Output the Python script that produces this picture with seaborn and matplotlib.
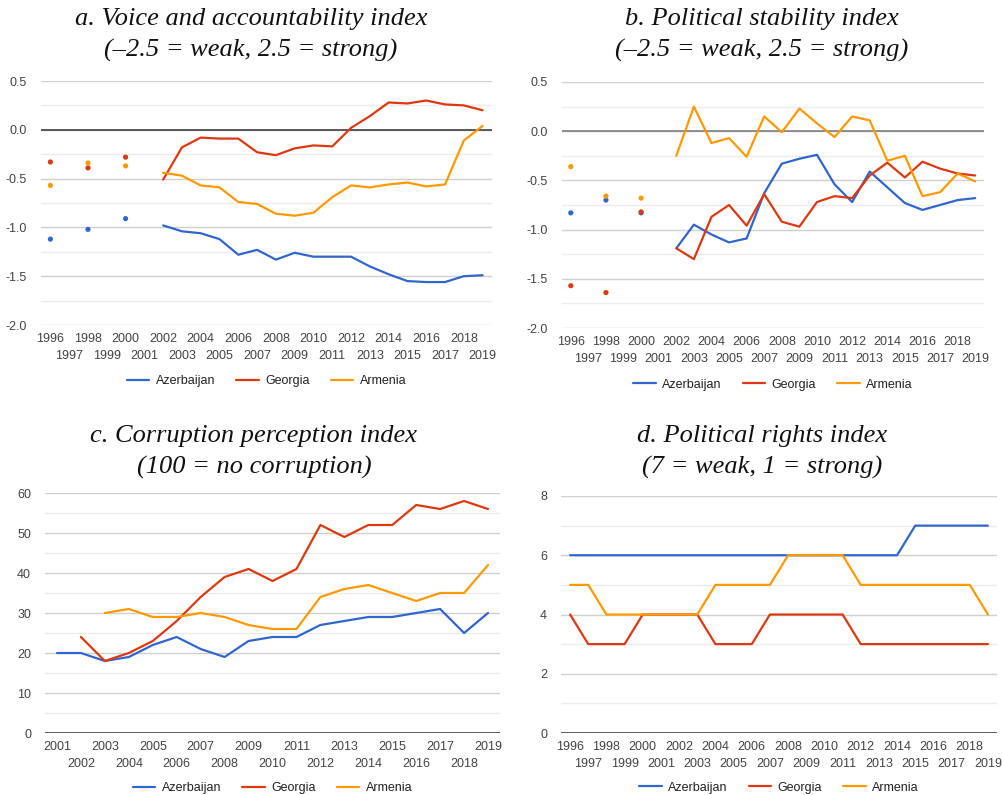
import numpy as np
import pandas as pd
import matplotlib
matplotlib.use("Agg")
import matplotlib.pyplot as plt
import seaborn as sns
from matplotlib.ticker import MultipleLocator

# ---------------- data ----------------
nan = np.nan
years_wgi = list(range(1996, 2020))
countries = ["Azerbaijan", "Georgia", "Armenia"]
colors = {"Azerbaijan": "#3366CC", "Georgia": "#DC3912", "Armenia": "#FF9900"}

# a. Voice and accountability (1997, 1999, 2001 not surveyed)
voice_aze = [-1.12, nan, -1.02, nan, -0.91, nan, -0.98, -1.04, -1.06, -1.12, -1.28, -1.23,
             -1.33, -1.26, -1.30, -1.30, -1.30, -1.40, -1.48, -1.55, -1.56, -1.56, -1.50, -1.49]
voice_geo = [-0.33, nan, -0.39, nan, -0.28, nan, -0.51, -0.18, -0.08, -0.09, -0.09, -0.23,
             -0.26, -0.19, -0.16, -0.17, 0.02, 0.14, 0.28, 0.27, 0.30, 0.26, 0.25, 0.20]
voice_arm = [-0.57, nan, -0.34, nan, -0.37, nan, -0.44, -0.47, -0.57, -0.59, -0.74, -0.76,
             -0.86, -0.88, -0.85, -0.69, -0.57, -0.59, -0.56, -0.54, -0.58, -0.56, -0.11, 0.04]

# b. Political stability
stab_aze = [-0.83, nan, -0.70, nan, -0.83, nan, -1.19, -0.95, -1.05, -1.13, -1.09, -0.63,
            -0.33, -0.28, -0.24, -0.54, -0.72, -0.41, -0.57, -0.73, -0.80, -0.75, -0.70, -0.68]
stab_geo = [-1.57, nan, -1.64, nan, -0.82, nan, -1.19, -1.30, -0.87, -0.75, -0.96, -0.64,
            -0.92, -0.97, -0.72, -0.66, -0.68, -0.45, -0.32, -0.47, -0.31, -0.38, -0.43, -0.45]
stab_arm = [-0.36, nan, -0.66, nan, -0.68, nan, -0.25, 0.25, -0.12, -0.07, -0.26, 0.15,
            -0.01, 0.23, 0.08, -0.06, 0.15, 0.11, -0.30, -0.25, -0.66, -0.62, -0.43, -0.51]

# c. Corruption perception index
years_cpi = list(range(2001, 2020))
cpi_aze = [20, 20, 18, 19, 22, 24, 21, 19, 23, 24, 24, 27, 28, 29, 29, 30, 31, 25, 30]
cpi_geo = [nan, 24, 18, 20, 23, 28, 34, 39, 41, 38, 41, 52, 49, 52, 52, 57, 56, 58, 56]
cpi_arm = [nan, nan, 30, 31, 29, 29, 30, 29, 27, 26, 26, 34, 36, 37, 35, 33, 35, 35, 42]

# d. Political rights
pr_aze = [6, 6, 6, 6, 6, 6, 6, 6, 6, 6, 6, 6, 6, 6, 6, 6, 6, 6, 6, 7, 7, 7, 7, 7]
pr_geo = [4, 3, 3, 3, 4, 4, 4, 4, 3, 3, 3, 4, 4, 4, 4, 4, 3, 3, 3, 3, 3, 3, 3, 3]
pr_arm = [5, 5, 4, 4, 4, 4, 4, 4, 5, 5, 5, 5, 6, 6, 6, 6, 5, 5, 5, 5, 5, 5, 5, 4]


def long_df(years, series):
    rows = []
    for name, vals in series.items():
        for y, v in zip(years, vals):
            rows.append({"Year": y, "Country": name, "Value": v})
    return pd.DataFrame(rows).dropna()


voice = long_df(years_wgi, {"Azerbaijan": voice_aze, "Georgia": voice_geo, "Armenia": voice_arm})
stab = long_df(years_wgi, {"Azerbaijan": stab_aze, "Georgia": stab_geo, "Armenia": stab_arm})
cpi = long_df(years_cpi, {"Azerbaijan": cpi_aze, "Georgia": cpi_geo, "Armenia": cpi_arm})
pr = long_df(years_wgi, {"Azerbaijan": pr_aze, "Georgia": pr_geo, "Armenia": pr_arm})

# ---------------- style ----------------
sns.set_theme(style="white")
plt.rcParams["font.family"] = ["Liberation Sans", "DejaVu Sans"]
plt.rcParams["axes.unicode_minus"] = False

fig = plt.figure(figsize=(10.03, 7.95), dpi=100)
W, H = 1003, 795


def add_ax(left, top, right, bottom):
    return fig.add_axes([left / W, 1 - bottom / H, (right - left) / W, (bottom - top) / H])


ax_a = add_ax(41, 81, 492, 325)
ax_b = add_ax(562, 82, 984, 328)
ax_c = add_ax(45, 493, 500, 733)
ax_d = add_ax(561, 496, 997, 733)


def style_axis(ax, years, ylim, major, minor, fmt, zero_color):
    ax.set_xlim(years[0] - 0.5, years[-1] + 0.5)
    ax.set_ylim(*ylim)
    # two staggered rows of year labels
    row1 = years[0::2]
    row2 = years[1::2]
    ax.set_xticks(row1)
    ax.set_xticklabels([str(y) for y in row1], fontsize=9, color="#444444")
    ax.set_xticks(row2, minor=True)
    ax.set_xticklabels([str(y) for y in row2], minor=True, fontsize=9, color="#444444")
    ax.tick_params(axis="x", which="major", length=0, pad=6)
    ax.tick_params(axis="x", which="minor", length=0, pad=18)
    ax.yaxis.set_major_locator(MultipleLocator(major))
    ax.yaxis.set_minor_locator(MultipleLocator(minor))
    ax.set_yticklabels([fmt.format(t) for t in ax.get_yticks()], fontsize=9, color="#444444")
    ax.tick_params(axis="y", which="both", length=0, pad=10)
    ax.grid(axis="y", which="major", color="#d0d0d0", linewidth=1)
    ax.grid(axis="y", which="minor", color="#ececec", linewidth=1)
    ax.grid(axis="x", which="both", visible=False)
    ax.axhline(0, color=zero_color, linewidth=1.1, zorder=1.5)
    for s in ax.spines.values():
        s.set_visible(False)
    ax.set_xlabel("")
    ax.set_ylabel("")


def draw(ax, df, split):
    if split:
        dots = df[df.Year <= 2000]
        lines = df[df.Year >= 2002]
        sns.scatterplot(data=dots, x="Year", y="Value", hue="Country", hue_order=countries,
                        palette=colors, s=14, linewidth=0, legend=False, ax=ax, zorder=3)
    else:
        lines = df
    sns.lineplot(data=lines, x="Year", y="Value", hue="Country", hue_order=countries,
                 palette=colors, linewidth=1.6, ax=ax, zorder=3)
    sns.move_legend(ax, "center", bbox_to_anchor=(0.5, -0.23), ncol=3, frameon=False,
                    title=None, fontsize=9, handlelength=1.8, handletextpad=0.5,
                    columnspacing=1.7)
    for t in ax.get_legend().get_texts():
        t.set_color("#222222")


draw(ax_a, voice, True)
style_axis(ax_a, years_wgi, (-2.0, 0.5), 0.5, 0.25, "{:.1f}", "#333333")
draw(ax_b, stab, True)
style_axis(ax_b, years_wgi, (-2.0, 0.5), 0.5, 0.25, "{:.1f}", "#777777")
draw(ax_c, cpi, False)
style_axis(ax_c, years_cpi, (0, 60), 10, 5, "{:.0f}", "#333333")
draw(ax_d, pr, False)
style_axis(ax_d, years_wgi, (0, 8), 2, 1, "{:.0f}", "#333333")

# titles
title_kw = dict(ha="center", va="center", fontsize=19, style="italic",
                family=["Liberation Serif", "DejaVu Serif"], color="#111111", linespacing=1.45)
fig.text(251 / W, 1 - 35 / H, "a. Voice and accountability index\n(\u20132.5 = weak, 2.5 = strong)", **title_kw)
fig.text(762 / W, 1 - 35 / H, "b. Political stability index\n(\u20132.5 = weak, 2.5 = strong)", **title_kw)
fig.text(254 / W, 1 - 452 / H, "c. Corruption perception index\n(100 = no corruption)", **title_kw)
fig.text(762 / W, 1 - 452 / H, "d. Political rights index\n(7 = weak, 1 = strong)", **title_kw)

fig.savefig("out.png", dpi=100, facecolor="white")
